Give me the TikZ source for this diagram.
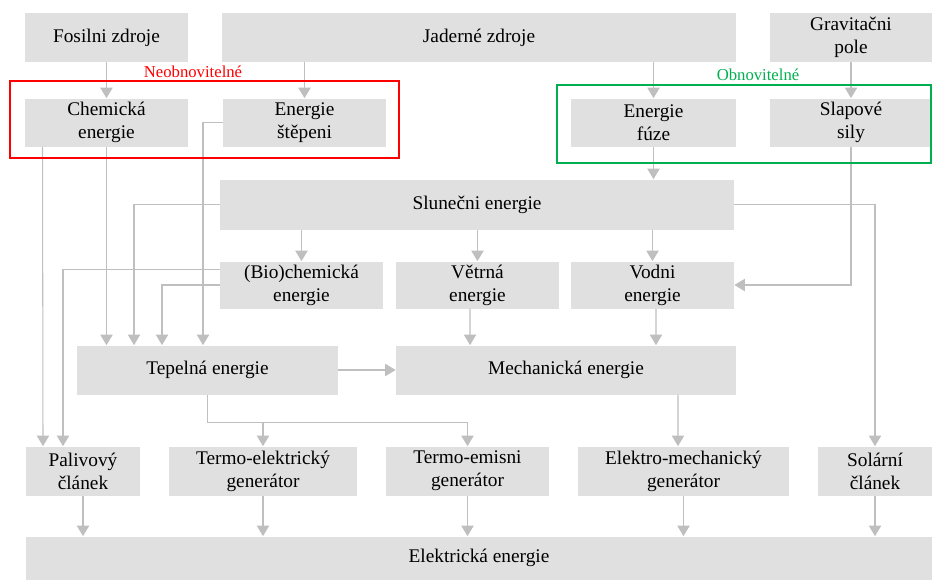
\documentclass[tikz,border=0pt]{standalone}
\usepackage{fontspec}
\setmainfont{Liberation Serif}
\usepackage{xcolor}
\usepackage{tikz}
\usetikzlibrary{positioning,arrows.meta}
\definecolor{boxfill}{HTML}{E0E0E0}
\definecolor{linegray}{HTML}{BFBFBF}
\definecolor{nonrenew}{HTML}{FF0000}
\definecolor{renew}{HTML}{00B050}

\begin{document}
\begin{tikzpicture}[
    x=0.02cm, y=-0.02cm,
    every node/.style={
        font=\fontsize{11}{13}\selectfont,
        align=center
    },
    source/.style={
        rectangle,
        fill=boxfill,
        inner sep=0pt,
        minimum width=3.26cm,
        minimum height=0.96cm
    },
    grouptext/.style={
        font=\fontsize{9.5}{11}\selectfont,
        inner sep=1pt
    },
    group/.style={
        rectangle,
        line width=1.1pt
    },
    arrow/.style={
        -{Triangle[length=6pt,width=7pt]},
        line width=0.6pt,
        color=linegray
    }
]
\useasboundingbox (0,0) rectangle (932,579);

% sources
\node[source, minimum height=0.98cm] (fos) at (106.5,37.5) {Fosilni zdroje};
\node[source, minimum width=10.28cm, minimum height=0.98cm] (jad) at (479,37.5) {Jaderné zdroje};
\node[source, minimum width=3.24cm, minimum height=0.98cm] (grav) at (851,37.5) {Gravitačni\\pole};

\node[source] (chem) at (106.5,122.5) {Chemická\\energie};
\node[source] (step) at (304.5,122.5) {Energie\\štěpeni};
\node[source, minimum width=3.3cm] (fuze) at (653.5,122.5) {Energie\\fúze};
\node[source, minimum width=3.24cm] (slap) at (851,122.5) {Slapové\\sily};

% forms of energy
\node[source, minimum width=10.28cm, minimum height=1cm] (slun) at (477,204.5) {Slunečni energie};
\node[source, minimum height=0.94cm] (bio) at (301.5,285) {(Bio)chemická\\energie};
\node[source, minimum height=0.94cm] (vetr) at (477.5,285) {Větrná\\energie};
\node[source, minimum height=0.94cm] (vod) at (652.5,285) {Vodni\\energie};
\node[source, minimum width=5.22cm, minimum height=0.98cm] (tep) at (207.5,370) {Tepelná energie};
\node[source, minimum width=6.8cm, minimum height=0.98cm] (mech) at (566,370) {Mechanická energie};

% converters
\node[source, minimum width=2.28cm, minimum height=0.98cm] (pal) at (83,471) {Palivový\\článek};
\node[source, minimum width=3.76cm, minimum height=0.98cm] (tel) at (263,471) {Termo-elektrický\\generátor};
\node[source, minimum height=0.98cm] (tem) at (467.5,471) {Termo-emisni\\generátor};
\node[source, minimum width=4.22cm, minimum height=0.98cm] (emg) at (683.5,471) {Elektro-mechanický\\generátor};
\node[source, minimum width=2.28cm, minimum height=0.98cm] (sol) at (875,471) {Solární\\článek};

\node[source, minimum width=18.12cm, minimum height=0.86cm] (ele) at (479,558) {Elektrická energie};

% groups
\node[grouptext, text=nonrenew] (neo) at (193,72) {Neobnovitelné};
\node[grouptext, text=renew] (obn) at (758,75) {Obnovitelné};

% arrows
\draw[arrow] (fos) -- (chem);
\draw[arrow] (jad.south -| step.north) -- (step.north);
\draw[arrow] (jad.south -| fuze.north) -- (fuze.north);
\draw[arrow] (grav) -- (slap);
\draw[arrow] (fuze.south) -- (fuze.south |- slun.north);

\draw[arrow] ([xshift=-1.28cm]chem.south) -- ([xshift=-0.8cm]pal.north);
\draw[arrow] (chem.south) -- (chem.south |- tep.north);
\draw[arrow] (step.west) -| ([xshift=-0.09cm]tep.north);
\draw[arrow] (slun.west) -| ([xshift=-1.47cm]tep.north);
\draw[arrow] ([yshift=0.31cm]bio.west) -| ([xshift=-0.4cm]pal.north);
\draw[arrow] (bio.west) -| ([xshift=-0.91cm]tep.north);

\draw[arrow] (slun.south -| bio.north) -- (bio.north);
\draw[arrow] (slun.south -| vetr.north) -- (vetr.north);
\draw[arrow] (slun.south -| vod.north) -- (vod.north);
\draw[arrow] (slun.east) -| (sol.north);
\draw[arrow] (slap.south) |- (vod.east);

\draw[arrow] ([xshift=-0.15cm]vetr.south) -- ([xshift=-1.92cm]mech.north);
\draw[arrow] ([xshift=0.07cm]vod.south) -- ([xshift=1.8cm]mech.north);
\draw[arrow] (tep.east) -- (mech.west);

\coordinate (split) at ([yshift=-0.56cm]tep.south);
\draw[arrow] (tep.south) -- (split) -| (tem.north);
\draw[arrow] (split -| tel.north) -- (tel.north);
\draw[arrow] ([xshift=2.24cm]mech.south) -- ([xshift=-0.11cm]emg.north);

\draw[arrow] (pal.south) -- (pal.south |- ele.north);
\draw[arrow] (tel.south) -- (tel.south |- ele.north);
\draw[arrow] (tem.south) -- (tem.south |- ele.north);
\draw[arrow] (emg.south) -- (emg.south |- ele.north);
\draw[arrow] (sol.south) -- (sol.south |- ele.north);

\draw[group, draw=nonrenew] (10,81) rectangle (399,158);
\draw[group, draw=renew] (557,85) rectangle (931,163);

\end{tikzpicture}
\end{document}
